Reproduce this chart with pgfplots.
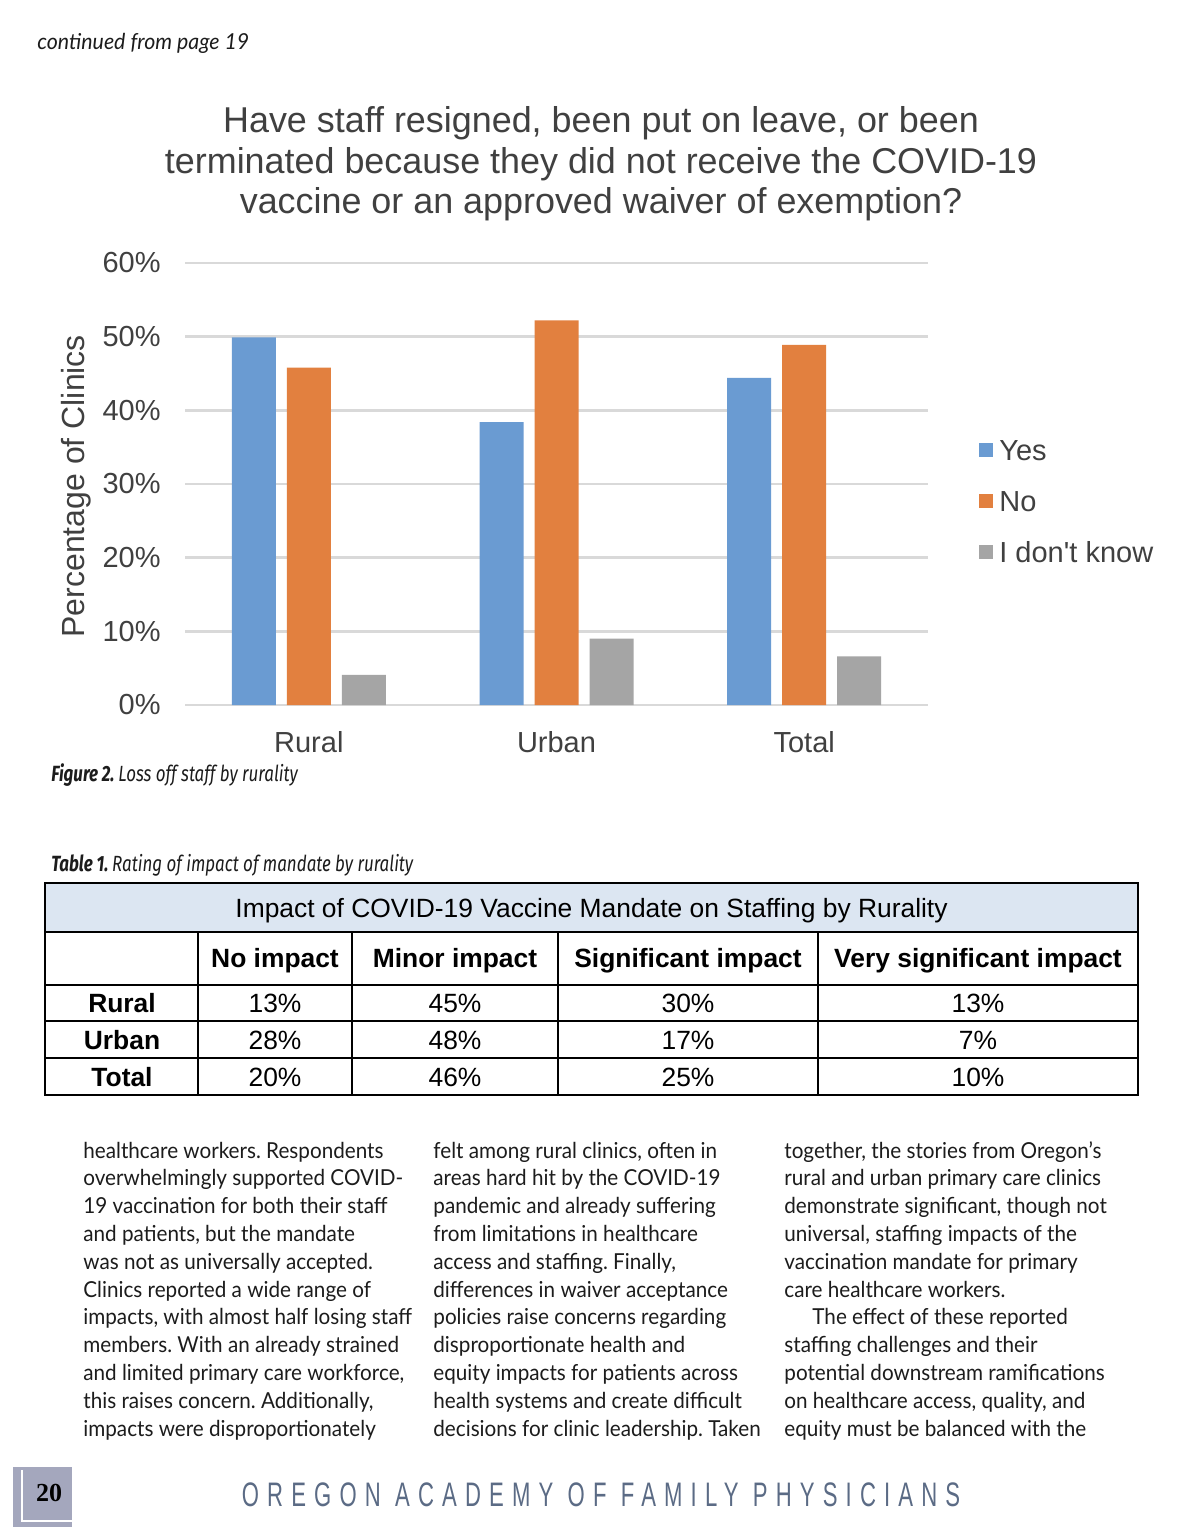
\documentclass[border=0pt]{standalone}
\usepackage{pgfplots}
\pgfplotsset{compat=1.18}
\usepackage{fontspec}
\setmainfont{Liberation Sans}
\newfontfamily\bodyfont[FakeStretch=0.94]{Lato}
\newfontfamily\contfont[FakeStretch=0.97]{Lato}
\newfontfamily\capfont[FakeStretch=0.77]{Fira Sans}
\newfontfamily\footfont[FakeStretch=0.65,LetterSpace=24]{Liberation Sans}
\newfontfamily\numfont{Liberation Serif}
\definecolor{cblue}{HTML}{6A9BD2}
\definecolor{corange}{HTML}{E2803F}
\definecolor{cgray}{HTML}{A5A5A5}
\definecolor{ctext}{HTML}{404040}
\definecolor{cgrid}{HTML}{D9D9D9}
\definecolor{thead}{HTML}{DCE6F2}
\definecolor{foot}{HTML}{5B6B85}
\definecolor{pagebox}{HTML}{A4A7BD}
\definecolor{body}{HTML}{1C1C1C}
\frenchspacing
\begin{document}
\begin{tikzpicture}
\begin{scope}[x=0.5pt,y=-0.5pt]
\fill[white] (0,0) rectangle (1200,1540);
\useasboundingbox (0,0) rectangle (1200,1540);
% header line
\node[anchor=base west, inner sep=0pt, text=body, font=\contfont\itshape\fontsize{11}{13}\selectfont] at (37,50) {continued from page 19};
% chart title
\node[anchor=base, inner sep=0pt, text=ctext, font=\fontsize{17.95}{20}\selectfont] at (601,133) {Have staff resigned, been put on leave, or been};
\node[anchor=base, inner sep=0pt, text=ctext, font=\fontsize{17.95}{20}\selectfont] at (601,173.5) {terminated because they did not receive the COVID-19};
\node[anchor=base, inner sep=0pt, text=ctext, font=\fontsize{17.95}{20}\selectfont] at (601,214) {vaccine or an approved waiver of exemption?};
% figure caption
\node[anchor=base west, inner sep=0pt, text=body, font=\capfont\fontsize{11}{13}\selectfont] at (51,781) {\bfseries\itshape Figure\,2.\ \mdseries\itshape Loss off staff by rurality};
\node[anchor=base west, inner sep=0pt, text=body, font=\capfont\fontsize{11}{13}\selectfont] at (51,871) {\bfseries\itshape Table 1.\ \mdseries\itshape Rating of impact of mandate by rurality};
% table
\fill[thead] (45,883) rectangle (1138,932);
\draw[line width=0.9pt] (45,883) rectangle (1138,1095);
\draw[line width=0.8pt] (45,932) -- (1138,932);
\draw[line width=0.8pt] (45,985) -- (1138,985);
\draw[line width=0.8pt] (45,1021) -- (1138,1021);
\draw[line width=0.8pt] (45,1058) -- (1138,1058);
\foreach \xx in {198,352,558,818} {\draw[line width=0.8pt] (\xx,932) -- (\xx,1095);}
\begin{scope}[every node/.style={anchor=base, inner sep=0pt, font=\fontsize{13.2}{16}\selectfont}]
\node at (591.5,917.5) {Impact of COVID-19 Vaccine Mandate on Staffing by Rurality};
\node[font=\fontsize{13.2}{16}\selectfont\bfseries] at (275,967.5) {No impact};
\node[font=\fontsize{13.2}{16}\selectfont\bfseries] at (455,967.5) {Minor impact};
\node[font=\fontsize{13.2}{16}\selectfont\bfseries] at (688,967.5) {Significant impact};
\node[font=\fontsize{13.2}{16}\selectfont\bfseries] at (978,967.5) {Very significant impact};
\node[font=\fontsize{13.2}{16}\selectfont\bfseries] at (122,1012.5) {Rural};
\node[font=\fontsize{13.2}{16}\selectfont\bfseries] at (122,1049.5) {Urban};
\node[font=\fontsize{13.2}{16}\selectfont\bfseries] at (122,1086.5) {Total};
\node at (275,1012.5) {13\%}; \node at (455,1012.5) {45\%}; \node at (688,1012.5) {30\%}; \node at (978,1012.5) {13\%};
\node at (275,1049.5) {28\%}; \node at (455,1049.5) {48\%}; \node at (688,1049.5) {17\%}; \node at (978,1049.5) {7\%};
\node at (275,1086.5) {20\%}; \node at (455,1086.5) {46\%}; \node at (688,1086.5) {25\%}; \node at (978,1086.5) {10\%};
\end{scope}
% body text
\begin{scope}[every node/.style={anchor=base west, inner sep=0pt, text=body, font=\bodyfont\fontsize{11}{13}\selectfont}]
\foreach \t [count=\i from 0] in {{healthcare workers. Respondents},{overwhelmingly supported COVID-},{19 vaccination for both their staff},{and patients, but the mandate},{was not as universally accepted.},{Clinics reported a wide range of},{impacts, with almost half losing staff},{members. With an already strained},{and limited primary care workforce,},{this raises concern. Additionally,},{impacts were disproportionately}}
  {\node at (83,1158+27.8*\i) {\t};}
\foreach \t [count=\i from 0] in {{felt among rural clinics, often in},{areas hard hit by the COVID-19},{pandemic and already suffering},{from limitations in healthcare},{access and staffing. Finally,},{differences in waiver acceptance},{policies raise concerns regarding},{disproportionate health and},{equity impacts for patients across},{health systems and create difficult},{decisions for clinic leadership. Taken}}
  {\node at (433,1158+27.8*\i) {\t};}
\foreach \t [count=\i from 0] in {{together, the stories from Oregon’s},{rural and urban primary care clinics},{demonstrate significant, though not},{universal, staffing impacts of the},{vaccination mandate for primary},{care healthcare workers.}}
  {\node at (784,1158+27.8*\i) {\t};}
\node at (812,1158+27.8*6) {The effect of these reported};
\foreach \t [count=\i from 7] in {{staffing challenges and their},{potential downstream ramifications},{on healthcare access, quality, and},{equity must be balanced with the}}
  {\node at (784,1158+27.8*\i) {\t};}
\end{scope}
% footer
\fill[pagebox] (13,1467) rectangle (72,1527);
\draw[white, line width=1pt] (22,1470) -- (22,1521) -- (72,1521);
\node[anchor=base, inner sep=0pt, font=\numfont\bfseries\fontsize{13}{15}\selectfont] at (49,1501) {20};
\node[anchor=base, inner sep=0pt, text=foot, font=\footfont\fontsize{17}{19}\selectfont] at (601,1506) {OREGON ACADEMY OF FAMILY PHYSICIANS};
\end{scope}
\begin{axis}[
  at={(92.5pt,-352.5pt)}, anchor=south west,
  scale only axis, width=371.5pt, height=221pt,
  ybar=5.5pt, bar width=22pt,
  xmin=-0.5, xmax=2.5, ymin=0, ymax=60,
  xtick={0,1,2}, xticklabels={Rural,Urban,Total},
  ytick={0,10,20,30,40,50,60},
  yticklabels={0\%,10\%,20\%,30\%,40\%,50\%,60\%},
  ymajorgrids, grid style={cgrid, line width=1.3pt},
  axis line style={draw=none}, major tick length=0pt,
  tick label style={font=\fontsize{14.5}{17}\selectfont, text=ctext},
  yticklabel style={anchor=east, xshift=-8.67pt},
  xticklabel style={anchor=base, yshift=-23.5pt},
  ylabel={Percentage of Clinics},
  every axis y label/.style={at={(axis description cs:-0.1467,0.495)}, rotate=90, anchor=center, font=\fontsize{16}{19}\selectfont, text=ctext},
  legend style={at={(1.0686,0.4615)}, anchor=west, draw=none, fill=none, inner sep=0pt, font=\fontsize{14.5}{17}\selectfont, text=ctext, row sep=11pt, nodes={inner sep=2pt, text height=10.5pt, text depth=0pt}},
  /tikz/every odd column/.append style={column sep=1pt},
  legend cell align=left,
  legend image code/.code={\fill[#1] (0pt,-3.5pt) rectangle (7pt,3.5pt);},
  clip=false,
]
\addplot[fill=cblue, draw=none] coordinates {(0,49.9) (1,38.4) (2,44.4)};
\addplot[fill=corange, draw=none] coordinates {(0,45.8) (1,52.2) (2,48.9)};
\addplot[fill=cgray, draw=none] coordinates {(0,4.1) (1,9.0) (2,6.6)};
\legend{Yes,No,I don\textquotesingle t know}
\end{axis}
\end{tikzpicture}
\end{document}
